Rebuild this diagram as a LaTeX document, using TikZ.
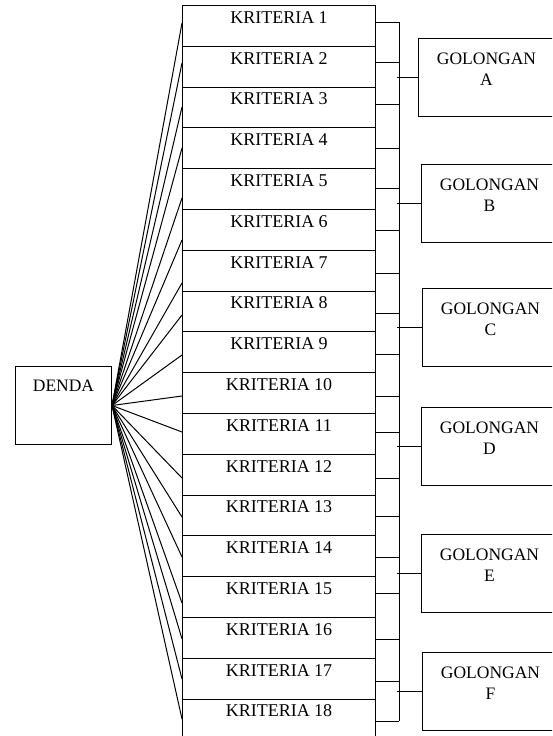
\documentclass[tikz,border=0pt]{standalone}
\usepackage{fontspec}
\setmainfont{Liberation Serif}
\begin{document}
\begin{tikzpicture}[x=1pt,y=-1pt,line width=1pt,
  every node/.style={font=\fontsize{17.5}{21}\selectfont},
  box/.style={draw,rectangle,inner sep=0pt,line width=1pt},
  kritbox/.style={box,minimum width=193pt,text height=17.8pt,text depth=23pt,anchor=north west,font=\fontsize{18}{21}\selectfont},
  golbox/.style={box,align=center,text width=136pt,text height=25.8pt,text depth=52.2pt,anchor=north west},
  dendabox/.style={box,minimum width=96pt,text height=24.8pt,text depth=53.2pt,anchor=north west},
  link/.style={draw,line width=1pt}]
\useasboundingbox (0,0) rectangle (552,736);
\clip (0,0) rectangle (552,736);
% DENDA
\node[dendabox] (denda) at (15,366) {DENDA};
% KRITERIA boxes
\foreach \i in {1,...,18}
  \node[kritbox] (k\i) at (182,{5+40.8*(\i-1)}) {KRITERIA \i};
% GOLONGAN boxes
\node[golbox] (gA) at (418,38)  {GOLONGAN\\A};
\node[golbox] (gB) at (421,164) {GOLONGAN\\B};
\node[golbox] (gC) at (422,288) {GOLONGAN\\C};
\node[golbox] (gD) at (421,407) {GOLONGAN\\D};
\node[golbox] (gE) at (421,534) {GOLONGAN\\E};
\node[golbox] (gF) at (422,652) {GOLONGAN\\F};
% bus
\coordinate (busTop) at (399,22);
\coordinate (busBot) at (399,721);
\draw[link] (busTop) -- (busBot);
% connectors
\foreach \i/\yl/\yr in {1/23/22,2/63/62,3/107/104,4/148/148,5/198/188,6/240/230,
  7/283/273,8/315/313,9/355/354,10/396/396,11/432/432,12/478/478,13/517/516,
  14/557/557,15/603/593,16/639/639,17/679/681,18/719/721}{
  \coordinate (kl\i) at (182,\yl);
  \coordinate (kr\i) at (375,\yr);
  \draw[link] (denda.east) -- (kl\i);
  \draw[link] (kr\i) -- (kr\i -| busTop);
}
\foreach \g in {A,B,C,D,E,F}
  \draw[link] ([xshift=-2pt]g\g.west -| busTop) -- (g\g.west);
\end{tikzpicture}
\end{document}
